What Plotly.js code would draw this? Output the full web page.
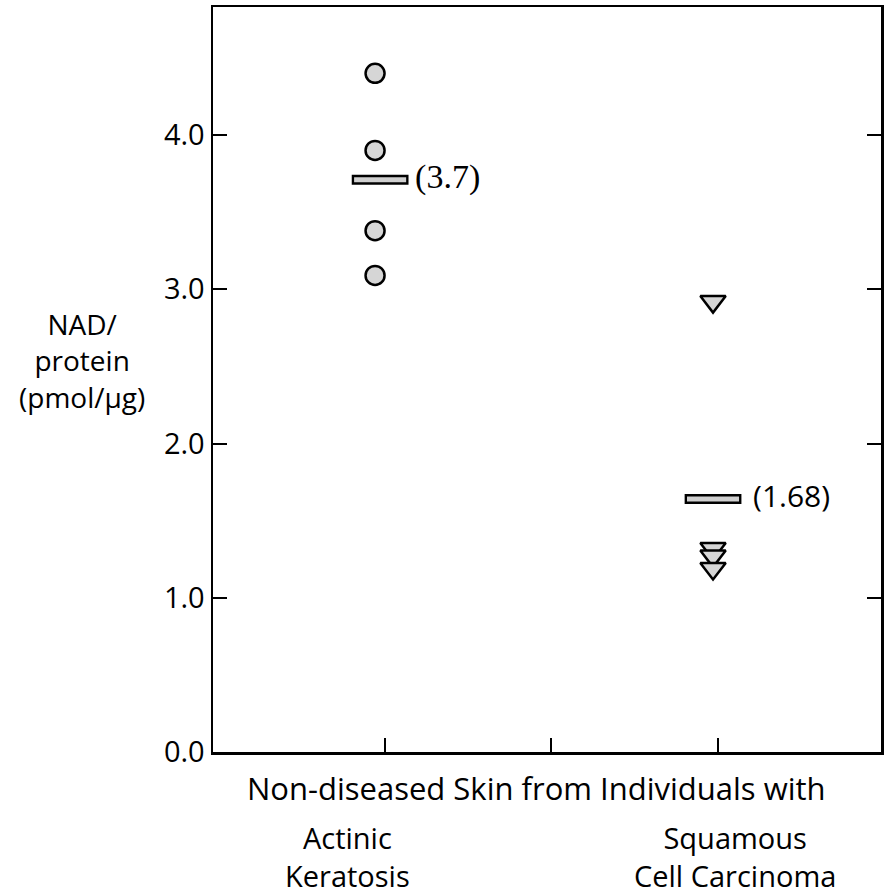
<!DOCTYPE html>
<html>
<head>
<meta charset="utf-8">
<script src="https://cdn.plot.ly/plotly-3.0.1.min.js"></script>
<style>html,body{margin:0;padding:0;background:#fff;}#chart{width:884px;height:895px;}</style>
</head>
<body>
<div id="chart"></div>
<script>
// ---- data ----
const categories = ['Actinic<br>Keratosis', 'Squamous<br>Cell Carcinoma'];
const groupX = [1, 3];
const akValues = [4.40, 3.90, 3.38, 3.09];
const sccValues = [2.92, 1.32, 1.27, 1.19];
const meanValues = [3.71, 1.64];
const meanLabels = ['(3.7)', '(1.68)'];
const yTickVals = [0, 1, 2, 3, 4];
const yTickLabels = ['0.0', '1.0', '2.0', '3.0', '4.0'];
const xTitle = 'Non-diseased Skin from Individuals with';
const yTitle = 'NAD/<br>protein<br>(pmol/μg)';

// ---- style / layout constants ----
const FONT = '"Open Sans", Lato, sans-serif';
const barHalf = 0.168;
const barNudge = [0.03, 0.0];
const labelGap = 0.237;
const catLabelX = [0.834, 3.13];

const traces = [];
// mean bars (outline + inner stipple grey)
meanValues.forEach((m, i) => {
  const c = groupX[i] + barNudge[i];
  traces.push({x: [c - barHalf, c + barHalf], y: [m, m], mode: 'lines',
    line: {color: '#000', width: 10}, hoverinfo: 'skip', showlegend: false});
  traces.push({x: [c - barHalf + 0.014, c + barHalf - 0.014], y: [m, m], mode: 'lines',
    line: {color: '#cfcfcf', width: 5}, hoverinfo: 'skip', showlegend: false});
  traces.push({x: [groupX[i] + labelGap], y: [m], mode: 'text', text: [meanLabels[i]],
    textposition: 'middle right',
    textfont: {family: i === 0 ? '"Liberation Serif", serif' : FONT, size: i === 0 ? 34 : 30, color: '#000'},
    hoverinfo: 'skip', showlegend: false});
});
// Actinic keratosis circles
traces.push({x: akValues.map(() => groupX[0]), y: akValues, mode: 'markers',
  marker: {symbol: 'circle', size: 19, color: '#d6d6d6', line: {color: '#000', width: 2.5}},
  showlegend: false});
// SCC triangles
traces.push({x: sccValues.map(() => groupX[1]), y: sccValues, mode: 'markers',
  marker: {symbol: 'triangle-down', size: 22, color: '#d6d6d6', line: {color: '#000', width: 2.5}},
  showlegend: false});

const annotations = [
  {text: xTitle, xref: 'paper', yref: 'paper', x: 0.485, y: -0.048, xanchor: 'center', yanchor: 'middle',
   showarrow: false, font: {family: FONT, size: 31, color: '#000'}},
  {text: yTitle, xref: 'paper', yref: 'paper', x: -0.196, y: 0.525, xanchor: 'center', yanchor: 'middle',
   showarrow: false, font: {family: FONT, size: 28, color: '#000'}}
];
categories.forEach((c, i) => {
  annotations.push({text: c, xref: 'x', yref: 'paper', x: catLabelX[i], y: -0.1396,
    xanchor: 'center', yanchor: 'middle', showarrow: false,
    font: {family: FONT, size: 29, color: '#000'}});
});

const layout = {
  width: 884, height: 895,
  margin: {l: 213, r: 3, t: 7, b: 143},
  paper_bgcolor: '#fff', plot_bgcolor: '#fff',
  showlegend: false,
  font: {family: FONT, color: '#000'},
  xaxis: {range: [0.041, 3.994], tickvals: [1.059, 2.041, 3.03], ticktext: ['', '', ''],
    ticks: 'inside', ticklen: 14, tickwidth: 2, tickcolor: '#000',
    showline: true, linecolor: '#000', linewidth: 2.5, mirror: true,
    showgrid: false, zeroline: false},
  yaxis: {range: [0, 4.83], tickvals: yTickVals, ticktext: yTickLabels,
    ticks: 'inside', ticklen: 14, tickwidth: 2, tickcolor: '#000',
    tickfont: {family: FONT, size: 29, color: '#000'},
    showline: true, linecolor: '#000', linewidth: 2.5, mirror: 'ticks',
    showgrid: false, zeroline: false},
  annotations: annotations
};

Plotly.newPlot('chart', traces, layout, {staticPlot: true, displayModeBar: false});
</script>
</body>
</html>
